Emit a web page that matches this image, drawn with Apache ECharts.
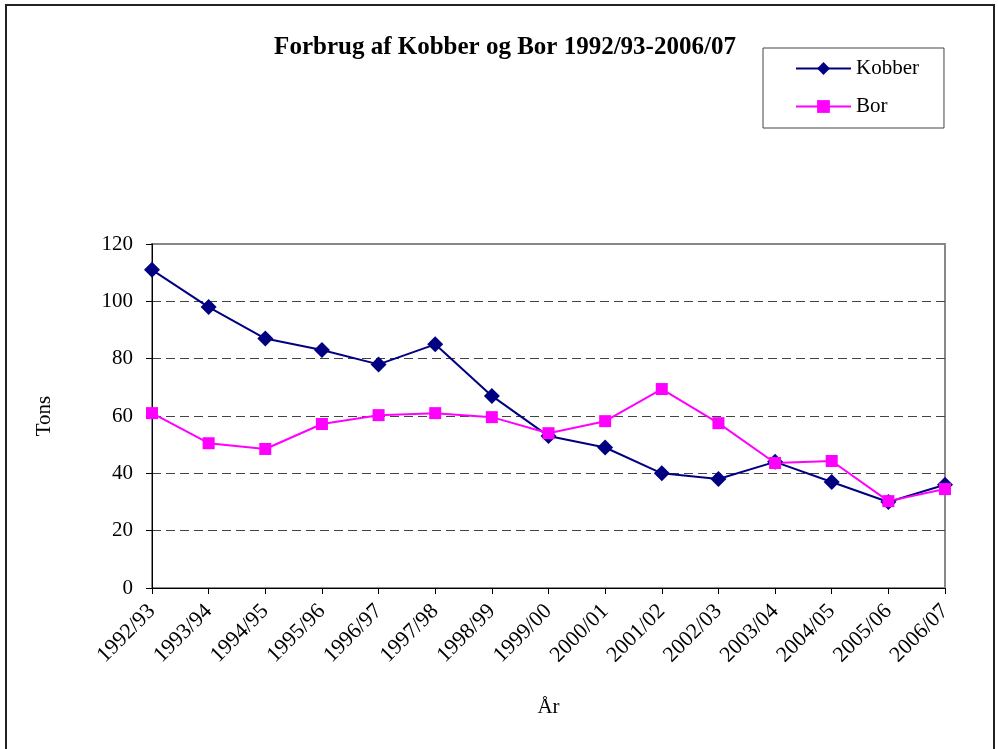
<!DOCTYPE html>
<html>
<head>
<meta charset="utf-8">
<script src="https://cdn.jsdelivr.net/npm/echarts@6/dist/echarts.min.js"></script>
<style>
html, body { margin: 0; padding: 0; background: #fff; }
#main { width: 998px; height: 749px; }
</style>
</head>
<body>
<div id="main"></div>
<script>
var aar = ['1992/93', '1993/94', '1994/95', '1995/96', '1996/97', '1997/98', '1998/99', '1999/00',
  '2000/01', '2001/02', '2002/03', '2003/04', '2004/05', '2005/06', '2006/07'];
var kobber = [111, 98, 87, 83, 78, 85, 67, 53, 49, 40, 38, 44, 37, 30, 36];
var bor = [61, 50.5, 48.5, 57.2, 60.3, 61, 59.6, 54, 58.2, 69.4, 57.5, 43.6, 44.3, 30.3, 34.5];

var serif = '"Liberation Serif", "Times New Roman", serif';

var myChart = echarts.init(document.getElementById('main'), null, { renderer: 'canvas' });

var option = {
  backgroundColor: '#fff',
  animation: false,
  textStyle: { fontFamily: serif, color: '#000' },
  title: {
    text: 'Forbrug af Kobber og Bor 1992/93-2006/07',
    left: 500,
    top: 30,
    textAlign: 'center',
    textStyle: { fontFamily: serif, fontSize: 25, fontWeight: 'bold', color: '#000' }
  },
  graphic: [{
    type: 'rect',
    shape: { x: 6, y: 5, width: 988, height: 760 },
    style: { fill: 'none', stroke: '#222', lineWidth: 2 }
  }],
  legend: {
    orient: 'vertical',
    left: 763,
    top: 48,
    padding: [10, 25, 11, 32],
    itemGap: 17,
    itemWidth: 55,
    itemHeight: 16,
    borderColor: '#444',
    borderWidth: 1,
    textStyle: { fontFamily: serif, fontSize: 21, color: '#000' },
    data: ['Kobber', 'Bor']
  },
  grid: {
    left: 152,
    right: 53,
    top: 244,
    bottom: 161,
    show: true,
    borderColor: '#888',
    borderWidth: 2
  },
  xAxis: {
    type: 'category',
    data: aar,
    boundaryGap: false,
    name: 'År',
    nameLocation: 'middle',
    nameGap: 109,
    nameTextStyle: { fontFamily: serif, fontSize: 21, color: '#000' },
    axisLine: { lineStyle: { color: '#000', width: 1 } },
    axisTick: { show: true, length: 6, lineStyle: { color: '#000' } },
    axisLabel: { rotate: 45, fontFamily: serif, fontSize: 22, color: '#000', margin: 20, interval: 0 },
    splitLine: { show: false }
  },
  yAxis: {
    type: 'value',
    min: 0,
    max: 120,
    interval: 20,
    name: 'Tons',
    nameLocation: 'middle',
    nameGap: 97,
    nameTextStyle: { fontFamily: serif, fontSize: 21, color: '#000' },
    axisLine: { show: true, lineStyle: { color: '#000', width: 1 } },
    axisTick: { show: true, length: 6, lineStyle: { color: '#000' } },
    axisLabel: { fontFamily: serif, fontSize: 21, color: '#000', margin: 19 },
    splitLine: { show: true, showMinLine: false, showMaxLine: false, lineStyle: { color: '#444', type: [9, 5], width: 1 } }
  },
  series: [
    {
      name: 'Kobber',
      type: 'line',
      data: kobber,
      symbol: 'diamond',
      symbolSize: 16,
      color: '#000080',
      lineStyle: { color: '#000080', width: 2 },
      itemStyle: { color: '#000080' }
    },
    {
      name: 'Bor',
      type: 'line',
      data: bor,
      symbol: 'rect',
      symbolSize: 12,
      color: '#ff00ff',
      lineStyle: { color: '#ff00ff', width: 2 },
      itemStyle: { color: '#ff00ff' }
    }
  ]
};

myChart.setOption(option);
window.addEventListener('resize', myChart.resize);
</script>
</body>
</html>
